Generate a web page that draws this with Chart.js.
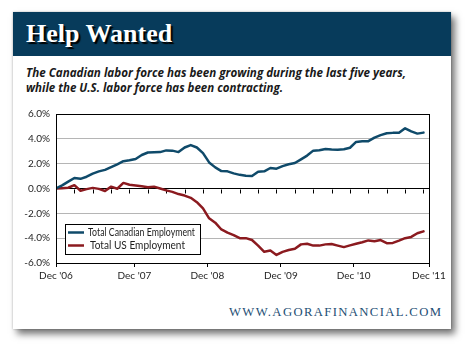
<!DOCTYPE html>
<html>
<head>
<meta charset="utf-8">
<script src="https://cdn.jsdelivr.net/npm/chart.js@4.4.1/dist/chart.umd.min.js"></script>
<style>
  html,body{margin:0;padding:0;background:#fff;}
  #wrap{position:relative;width:470px;height:350px;overflow:hidden;background:#fff;}
  #card{position:absolute;left:13px;top:12px;width:438px;height:317px;background:#fff;
        box-shadow:4px 5px 7px rgba(0,0,0,0.55), 0 0 2px rgba(0,0,0,0.25);}
  #band{position:absolute;left:13px;top:12px;width:438px;height:44px;background:#073b5b;}
  .txt{position:absolute;white-space:nowrap;display:inline-block;transform-origin:0 0;}
  #title{left:26px;top:21px;font-family:"Liberation Serif",serif;font-weight:bold;font-size:26px;line-height:26px;color:#fff;
         text-shadow:2px 2px 1px #000;}
  .sub{left:26px;font-family:"Open Sans",sans-serif;font-weight:700;font-style:italic;font-size:12.6px;line-height:15px;color:#1a1a1a;}
  #sub1{top:65px;} #sub2{top:80px;}
  #wm{left:229px;top:306px;font-family:"Liberation Serif",serif;font-size:12.7px;line-height:13px;color:#1d4e74;}
  canvas{position:absolute;left:0;top:0;}
</style>
</head>
<body>
<div id="wrap">
  <div id="card"></div>
  <div id="band"></div>
  <div id="title" class="txt">Help Wanted</div>
  <div id="sub1" class="txt sub" data-w="380">The Canadian labor force has been growing during the last five years,</div>
  <div id="sub2" class="txt sub" data-w="257">while the U.S. labor force has been contracting.</div>
  <div id="wm" class="txt">WWW.AGORAFINANCIAL.COM</div>
  <canvas id="c" width="470" height="350"></canvas>
</div>
<script>
// ---- data ----
const months = ["Dec06","Jan07","Feb07","Mar07","Apr07","May07","Jun07","Jul07","Aug07","Sep07","Oct07","Nov07",
  "Dec07","Jan08","Feb08","Mar08","Apr08","May08","Jun08","Jul08","Aug08","Sep08","Oct08","Nov08",
  "Dec08","Jan09","Feb09","Mar09","Apr09","May09","Jun09","Jul09","Aug09","Sep09","Oct09","Nov09",
  "Dec09","Jan10","Feb10","Mar10","Apr10","May10","Jun10","Jul10","Aug10","Sep10","Oct10","Nov10",
  "Dec10","Jan11","Feb11","Mar11","Apr11","May11","Jun11","Jul11","Aug11","Sep11","Oct11","Nov11","Dec11"];
const canadian = [0.00,0.25,0.55,0.85,0.78,0.95,1.20,1.38,1.50,1.72,1.95,2.20,2.27,2.38,2.70,2.90,2.92,2.93,3.07,3.05,2.93,3.30,3.50,3.30,2.85,2.10,1.70,1.40,1.38,1.22,1.10,1.02,1.00,1.35,1.38,1.65,1.60,1.80,1.95,2.05,2.35,2.65,3.05,3.08,3.18,3.14,3.13,3.16,3.28,3.75,3.81,3.81,4.10,4.30,4.45,4.48,4.48,4.85,4.60,4.42,4.50];
const us = [0.00,0.03,0.06,0.27,-0.18,-0.05,0.05,-0.03,-0.20,0.15,-0.02,0.45,0.30,0.25,0.18,0.10,0.15,0.00,-0.15,-0.27,-0.45,-0.57,-0.75,-1.10,-1.60,-2.40,-2.75,-3.30,-3.55,-3.75,-4.00,-4.00,-4.15,-4.60,-5.10,-5.00,-5.35,-5.10,-4.95,-4.85,-4.50,-4.45,-4.60,-4.60,-4.50,-4.47,-4.60,-4.72,-4.58,-4.45,-4.33,-4.18,-4.25,-4.15,-4.40,-4.38,-4.20,-4.00,-3.90,-3.60,-3.45];
const seriesNames = ["Total Canadian Employment","Total US Employment"];
const xTickLabels = ["Dec '06","Dec '07","Dec '08","Dec '09","Dec '10","Dec '11"];
const xTickMonths = [0, 12.8, 24.7, 36.7, 48.6, 60.9];
const yTicks = [-6,-4,-2,0,2,4,6];

// fit subtitle widths
document.querySelectorAll('.sub').forEach(el=>{
  const w = el.getBoundingClientRect().width, t = +el.dataset.w;
  el.style.transform = 'scaleX(' + (t/w) + ')';
});
(function(){
  const el = document.getElementById('wm');
  const w = el.getBoundingClientRect().width, n = el.textContent.length;
  el.style.letterSpacing = ((212 - w)/(n-1)) + 'px';
})();

const frame = {
  id:'frame',
  beforeDatasetsDraw(chart){
    const {ctx, chartArea:a, scales:{x,y}} = chart;
    ctx.save();
    ctx.strokeStyle='#000'; ctx.lineWidth=1;
    const y0 = Math.round(y.getPixelForValue(0))+0.5;
    ctx.beginPath();
    for(let i=3;i<months.length;i+=3){
      const px = Math.round(x.getPixelForValue(i))+0.5;
      ctx.moveTo(px,y0); ctx.lineTo(px,y0+4);
    }
    ctx.stroke();
    ctx.restore();
  },
  afterDraw(chart){
    const {ctx, chartArea:a} = chart;
    ctx.save();
    ctx.strokeStyle='#000'; ctx.lineWidth=1;
    ctx.strokeRect(Math.round(a.left)+0.5, Math.round(a.top)+0.5, Math.round(a.right-a.left), Math.round(a.bottom-a.top));
    // legend
    const bx=65.5, by=224.5, bw=135, bh=30;
    ctx.fillStyle='#fff'; ctx.fillRect(bx,by,bw,bh);
    ctx.strokeRect(bx,by,bw,bh);
    ctx.font='10.5px Lato, "Noto Sans", sans-serif';
    ctx.textBaseline='middle';
    const rows=[232.5,245.5], tx=[88,90], tw=[107,95];
    chart.data.datasets.forEach((ds,i)=>{
      ctx.strokeStyle=ds.borderColor; ctx.lineWidth=2.5;
      ctx.beginPath(); ctx.moveTo(68,rows[i]); ctx.lineTo(84,rows[i]); ctx.stroke();
      ctx.fillStyle='#1e1e1e';
      ctx.fillText(ds.label, tx[i], rows[i]+0.5, tw[i]);
    });
    ctx.restore();
  }
};

new Chart(document.getElementById('c'), {
  type:'line',
  data:{
    datasets:[
      {label:seriesNames[0], data:canadian.map((v,i)=>({x:i,y:v})), borderColor:'#0f4a6a', borderWidth:2.5, pointRadius:0, tension:0, borderJoinStyle:'round', borderCapStyle:'round'},
      {label:seriesNames[1], data:us.map((v,i)=>({x:i,y:v})), borderColor:'#8b1a1f', borderWidth:2.5, pointRadius:0, tension:0, borderJoinStyle:'round', borderCapStyle:'round'}
    ]
  },
  options:{
    responsive:false, animation:false, devicePixelRatio:1,
    layout:{padding:{left:0, top:114, right:41, bottom:63}},
    plugins:{legend:{display:false}, tooltip:{enabled:false}},
    scales:{
      x:{type:'linear', min:0, max:60.9,
         afterBuildTicks(s){ s.ticks = xTickMonths.map(v=>({value:v})); },
         afterFit(s){ s.height = 24; },
         grid:{drawOnChartArea:false, drawTicks:true, tickLength:4, color:'#000'},
         border:{display:true, color:'#000'},
         ticks:{autoSkip:false, maxRotation:0, padding:3, color:'#1e1e1e', font:{family:'Lato, "Noto Sans", sans-serif', size:10},
                callback:(v,i)=>xTickLabels[i]}},
      y:{min:-6, max:6,
         afterBuildTicks(s){ s.ticks = yTicks.map(v=>({value:v})); },
         afterFit(s){ s.width = 56; },
         grid:{drawTicks:false, color:(c)=> (c.tick && (c.tick.value===0 || Math.abs(c.tick.value)===6)) ? '#000' : '#b5b5b5'},
         border:{display:true, color:'#000'},
         ticks:{padding:6, color:'#1e1e1e', font:{family:'Lato, "Noto Sans", sans-serif', size:10},
                callback:(v)=>v.toFixed(1)+'%'}}
    }
  },
  plugins:[frame]
});
</script>
</body>
</html>
